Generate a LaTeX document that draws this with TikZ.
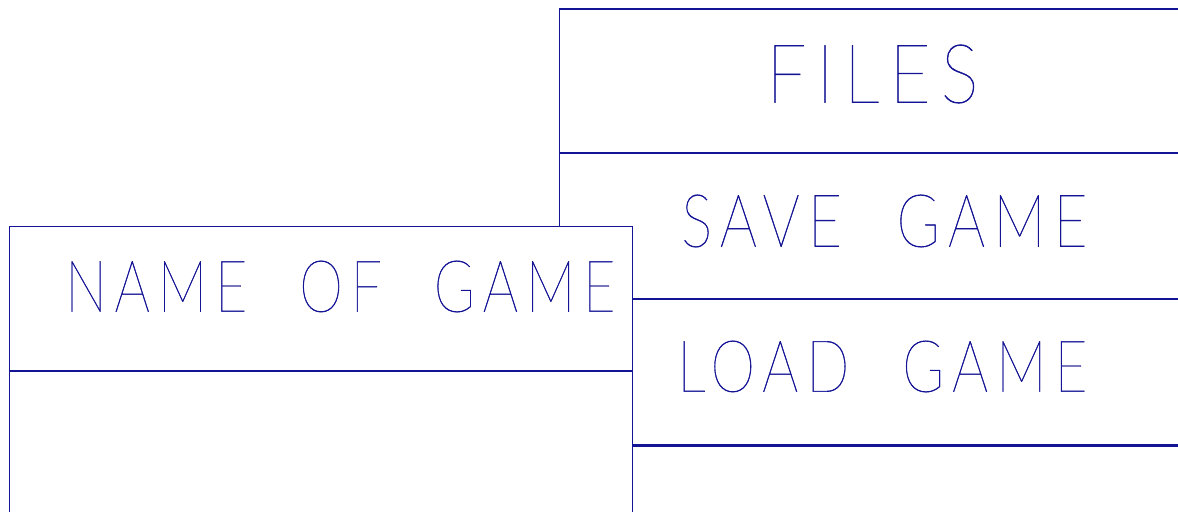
\documentclass[tikz,border=0pt]{standalone}
\usepackage{fontspec}
\usepackage{graphicx}
\newfontfamily\cadfont{Lato Hairline}[LetterSpace=14, WordSpace=2.2, FakeBold=0.6]
\definecolor{cadblue}{RGB}{20,20,150}
\newcommand{\cadlabel}[3]{\resizebox{#1}{#2}{\cadfont #3}}
\usetikzlibrary{positioning}

\begin{document}
\begin{tikzpicture}[x=0.025cm, y=-0.025cm,
    panel/.style={draw=cadblue, line width=0.8pt, fill=white, rectangle,
      inner sep=0pt, anchor=north west, minimum width=#1},
    menutext/.style={text=cadblue, inner sep=0pt, anchor=west}]
  \useasboundingbox (0,0) rectangle (1178,512);
  \clip (0,0) rectangle (1178,512);

  % Menu FILES (a la derecha)
  \node[panel=17.525cm, minimum height=3.5875cm] (files) at (559,8.5) {};
  \node[panel=17.525cm, minimum height=3.6125cm] (save) at (files.south west) {};
  \node[panel=17.525cm, minimum height=3.6375cm] (load) at (save.south west) {};
  \node[panel=17.525cm, minimum height=2.95cm] (spare) at (load.south west) {};

  % Ventana del juego (encima)
  \node[panel=15.5875cm, minimum height=3.6125cm] (title) at (8.5,225.5) {};
  \node[panel=15.5875cm, minimum height=3.75cm] (body) at (title.south west) {};

  % Textos
  \node[menutext] (filestext) at (766,74) {\cadlabel{5.3cm}{1.45cm}{FILES}};
  \node[menutext] (savetext) at (681,221) {\cadlabel{10.15cm}{1.3cm}{SAVE GAME}};
  \node[menutext] (loadtext) at (677,366.5) {\cadlabel{10.25cm}{1.275cm}{LOAD GAME}};
  \node[menutext] (titletext) at (65,286.5) {\cadlabel{13.75cm}{1.275cm}{NAME OF GAME}};
\end{tikzpicture}
\end{document}
